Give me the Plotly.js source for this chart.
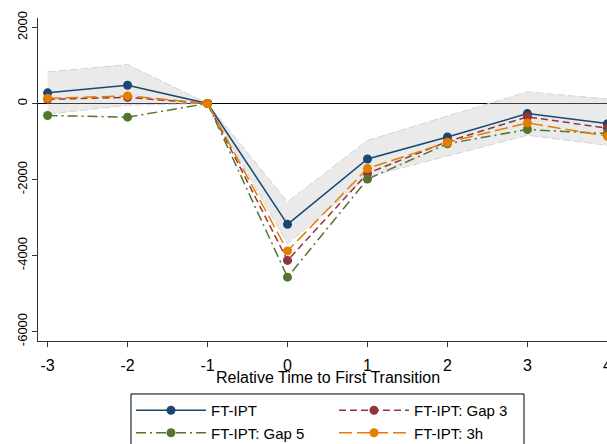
<!DOCTYPE html>
<html>
<head>
<meta charset="utf-8">
<script src="https://cdn.plot.ly/plotly-3.0.1.min.js"></script>
<style>
html,body{margin:0;padding:0;background:#fff;overflow:hidden;}
#chart{width:655px;height:444px;}
</style>
</head>
<body>
<div id="chart"></div>
<script>
// Relative time
const relTime = [-3, -2, -1, 0, 1, 2, 3, 4];
// Series
const ftIpt     = [280, 480, 0, -3180, -1460, -880, -265, -530];
const ftIptGap3 = [110, 160, 0, -4130, -1840, -1000, -350, -650];
const ftIptGap5 = [-315, -360, 0, -4570, -1990, -1060, -685, -790];
const ftIpt3h   = [135, 200, 0, -3880, -1710, -1025, -510, -860];
// Confidence band of FT-IPT
const ciUpper = [830, 1025, 0, -2590, -970, -330, 305, 120];
const ciLower = [-280, -45, 0, -3690, -1930, -1380, -835, -1100];
// Labels
const seriesNames = ['FT-IPT', 'FT-IPT: Gap 3', 'FT-IPT: Gap 5', 'FT-IPT: 3h'];
const yTicks = [-6000, -4000, -2000, 0, 2000];
const xTicks = [-3, -2, -1, 0, 1, 2, 3, 4];
const xTitle = 'Relative Time to First Transition';

const colors = ['#1a476f', '#90353b', '#55752f', '#e37e00'];
const dashes = ['solid', '7px,4px', '10px,4px,2px,4px', '13px,5px'];
const series = [ftIpt, ftIptGap3, ftIptGap5, ftIpt3h];

const traces = [];
traces.push({
  x: relTime, y: ciLower, type: 'scatter', mode: 'lines',
  line: {color: '#d4d4d4', width: 1, dash: '8px,3px'},
  showlegend: false, hoverinfo: 'skip'
});
traces.push({
  x: relTime, y: ciUpper, type: 'scatter', mode: 'lines',
  fill: 'tonexty', fillcolor: 'rgba(190,190,190,0.32)',
  line: {color: '#d4d4d4', width: 1, dash: '8px,3px'},
  showlegend: false, hoverinfo: 'skip'
});
series.forEach((s, i) => {
  traces.push({
    x: relTime, y: s, type: 'scatter', mode: 'lines+markers',
    name: seriesNames[i],
    line: {color: colors[i], width: 1.5, dash: dashes[i]},
    marker: {color: colors[i], size: 9}
  });
});

const layout = {
  width: 655, height: 444,
  margin: {l: 38, r: 38, t: 18, b: 103, autoexpand: false},
  paper_bgcolor: '#fff', plot_bgcolor: '#fff',
  font: {family: 'Liberation Sans, Arial, sans-serif', size: 14, color: '#000'},
  showlegend: true,
  xaxis: {
    range: [-3.12, 4.12], tickvals: xTicks, ticktext: xTicks.map(String),
    showgrid: false, zeroline: false, showline: true, linecolor: '#333', linewidth: 1,
    ticks: 'outside', ticklen: 5, tickcolor: '#333', tickwidth: 1,
    tickfont: {size: 16}, ticklabelstandoff: 5, ticklabeloverflow: 'allow'
  },
  yaxis: {
    range: [-6250, 2250], tickvals: yTicks, ticktext: yTicks.map(String),
    showgrid: false, zeroline: true, zerolinecolor: '#000', zerolinewidth: 1.5,
    showline: true, linecolor: '#333', linewidth: 1,
    ticks: 'outside', ticklen: 5, tickcolor: '#333', tickwidth: 1,
    tickangle: -90, tickfont: {size: 13}
  },
  annotations: [{
    text: xTitle, xref: 'paper', yref: 'paper', x: 0.5, y: -0.1115,
    xanchor: 'center', yanchor: 'middle', showarrow: false, font: {size: 16}
  }],
  shapes: [{
    type: 'rect', xref: 'paper', yref: 'paper',
    x0: 0.1606, x1: 0.8394, y0: -0.164, y1: -0.40,
    line: {color: '#000', width: 1}, fillcolor: 'rgba(0,0,0,0)', layer: 'above'
  }],
  legend: {
    orientation: 'h', x: 0.1606, xanchor: 'left', y: -0.164, yanchor: 'top',
    borderwidth: 0, bgcolor: 'rgba(0,0,0,0)',
    entrywidth: 118, entrywidthmode: 'pixels', itemwidth: 70,
    font: {size: 15}, traceorder: 'normal', tracegroupgap: 0
  }
};

Plotly.newPlot('chart', traces, layout, {displayModeBar: false, staticPlot: true});
</script>
</body>
</html>
